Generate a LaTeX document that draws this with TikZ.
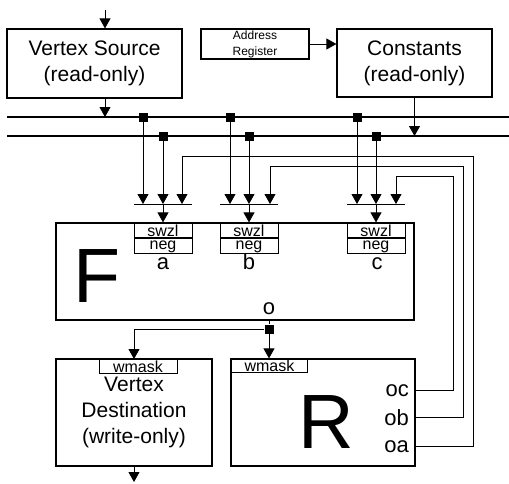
\documentclass[tikz,border=0pt]{standalone}
\usepackage{fontspec}
\setmainfont{Liberation Sans}
\usetikzlibrary{arrows.meta,calc}

\begin{document}
\begin{tikzpicture}[
        x=1pt, y=-1pt,
        box/.style={draw, line width=1.2pt, inner sep=0pt, align=center,
            font=\fontsize{21}{26}\selectfont},
        tag/.style={draw, line width=1pt, inner sep=0pt,
            font=\fontsize{16}{16}\selectfont},
        lbl/.style={inner sep=0pt, font=\fontsize{22}{22}\selectfont},
        huge/.style={inner sep=0pt, font=\fontsize{77}{77}\selectfont},
        bus/.style={line width=2.5pt},
        wire/.style={line width=0.8pt},
        arr/.style={wire, -{Triangle[length=10pt,width=11pt]}},
        tap/.style={fill=black, minimum size=9pt, inner sep=0pt}
    ]

    \useasboundingbox (0,0) rectangle (509,483);

    % memories and buses
    \node[box, minimum width=175pt, minimum height=69pt] (vsrc) at (94.5,63.5) {Vertex Source\\(read-only)};
    \node[box, minimum width=108pt, minimum height=30pt, font=\fontsize{12}{16}\selectfont] (addr) at (255,44) {Address\\Register};
    \node[box, minimum width=155pt, minimum height=68pt] (const) at (414.5,63) {Constants\\(read-only)};

    \coordinate (bus1) at (7,117);
    \coordinate (bus2) at (7,136);
    \draw[bus] (bus1) -- (bus1 -| 509,0);
    \draw[bus] (bus2) -- (bus2 -| 509,0);

    \coordinate (vin) at (105,10);
    \draw[arr] (vin) -- (vin |- vsrc.north);
    \draw[arr] (vin |- vsrc.south) -- (vin |- bus1);
    \draw[arr] (addr.east) -- (addr.east -| const.west);
    \draw[arr] (const.south) -- (const.south |- bus2);

    % F unit
    \node[box, minimum width=358pt, minimum height=97pt] (F) at (235,271.5) {};
    \node[huge, anchor=base] (Fl) at (97,302) {F};

    \node[tap] (ta1) at (143,117) {};
    \node[tap] (ta2) at (163,136) {};
    \coordinate (ma) at (163,204);
    \coordinate (ia) at (182,204);
    \draw[wire] ($(ma)+(-29,0)$) -- ($(ma)+(29,0)$);
    \draw[arr] (ta1) -- (ta1 |- ma);
    \draw[arr] (ta2) -- (ma);
    \node[tag, minimum width=58pt, minimum height=15pt, anchor=north] (swa) at (F.north -| ma) {swzl};
    \node[tag, minimum width=58pt, minimum height=15pt, anchor=north] (nga) at (swa.south) {neg};
    \node[lbl, anchor=base] (a) at (163,269) {a};
    \draw[arr] (ma) -- (swa.north);

    \node[tap] (tb1) at (230,117) {};
    \node[tap] (tb2) at (249,136) {};
    \coordinate (mb) at (249,204);
    \coordinate (ib) at (270,204);
    \draw[wire] ($(mb)+(-29,0)$) -- ($(mb)+(29,0)$);
    \draw[arr] (tb1) -- (tb1 |- mb);
    \draw[arr] (tb2) -- (mb);
    \node[tag, minimum width=58pt, minimum height=15pt, anchor=north] (swb) at (F.north -| mb) {swzl};
    \node[tag, minimum width=58pt, minimum height=15pt, anchor=north] (ngb) at (swb.south) {neg};
    \node[lbl, anchor=base] (b) at (249,269) {b};
    \draw[arr] (mb) -- (swb.north);

    \node[tap] (tc1) at (357,117) {};
    \node[tap] (tc2) at (376,136) {};
    \coordinate (mc) at (376,204);
    \coordinate (ic) at (396,204);
    \draw[wire] ($(mc)+(-29,0)$) -- ($(mc)+(29,0)$);
    \draw[arr] (tc1) -- (tc1 |- mc);
    \draw[arr] (tc2) -- (mc);
    \node[tag, minimum width=58pt, minimum height=15pt, anchor=north] (swc) at (F.north -| mc) {swzl};
    \node[tag, minimum width=58pt, minimum height=15pt, anchor=north] (ngc) at (swc.south) {neg};
    \node[lbl, anchor=base] (c) at (377,269) {c};
    \draw[arr] (mc) -- (swc.north);

    % destinations
    \node[box, minimum width=156pt, minimum height=107pt] (vdst) at (134,412.5) {Vertex\\Destination\\(write-only)};
    \node[tag, minimum width=78pt, minimum height=14pt, anchor=north] (dmask) at (138,359) {wmask};
    \coordinate (vout) at (134,482);
    \draw[arr] (vdst.south) -- (vout);

    \node[box, minimum width=184pt, minimum height=107pt] (R) at (323,412.5) {};
    \node[tag, minimum width=77pt, minimum height=14pt, anchor=north west] (rmask) at (R.north west) {wmask};
    \node[huge, anchor=base] (Rl) at (326,448) {R};
    \node[lbl, anchor=base east] (oc) at (409,396) {oc};
    \node[lbl, anchor=base east] (ob) at (409,425) {ob};
    \node[lbl, anchor=base east] (oa) at (409,452) {oa};

    \node[lbl, anchor=base] (o) at (269,314) {o};
    \node[tap] (to) at (269,329) {};
    \draw[wire] (F.south -| to) -- (to);
    \draw[arr] (to) -- (to |- rmask.north);
    \draw[arr] (to) -| (vout |- dmask.north);

    % register feedback
    \coordinate (pa) at (473,156);
    \coordinate (pb) at (463,166);
    \coordinate (pc) at (453,176);
    \draw[arr] (R.east |- oa.east) -| (pa) -| (ia);
    \draw[arr] (R.east |- ob.east) -| (pb) -| (ib);
    \draw[arr] (R.east |- oc.east) -| (pc) -| (ic);
\end{tikzpicture}
\end{document}
